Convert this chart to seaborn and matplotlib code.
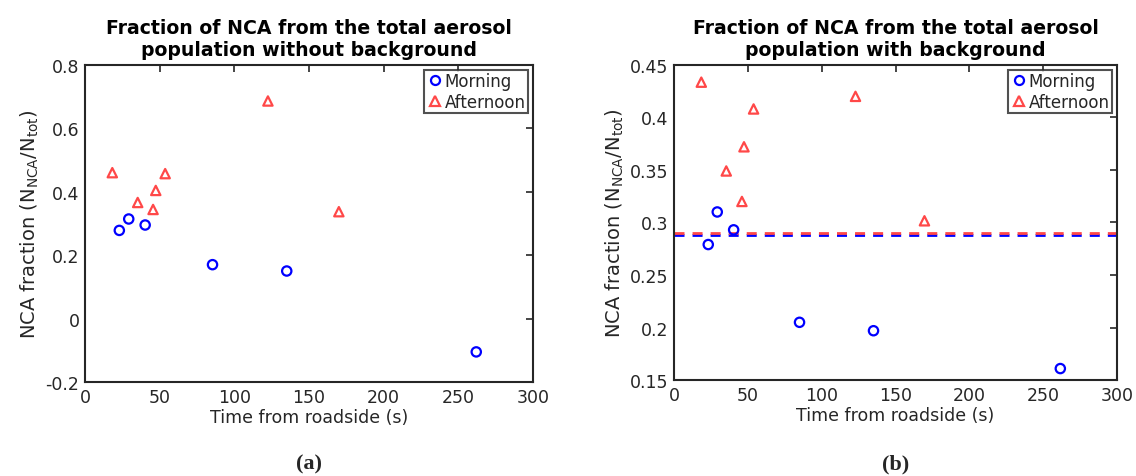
import numpy as np
import pandas as pd
import matplotlib
matplotlib.use("Agg")
import matplotlib.pyplot as plt
from matplotlib.lines import Line2D
import seaborn as sns

# ---- data ----
morning_t_a = [23, 29.3, 40.3, 85.4, 135.1, 262]
morning_f_a = [0.278, 0.314, 0.295, 0.170, 0.150, -0.105]
afternoon_t_a = [18.3, 35.3, 45.6, 47.4, 53.7, 122.5, 170]
afternoon_f_a = [0.460, 0.366, 0.344, 0.404, 0.457, 0.686, 0.337]

morning_t_b = [23.2, 29.3, 40.4, 85, 135.1, 261.6]
morning_f_b = [0.279, 0.310, 0.293, 0.205, 0.197, 0.161]
afternoon_t_b = [18.5, 35.4, 46, 47.4, 53.9, 122.9, 169.6]
afternoon_f_b = [0.4335, 0.349, 0.320, 0.372, 0.408, 0.420, 0.3016]

background_morning_b = 0.2880
background_afternoon_b = 0.2897

titles = ["Fraction of NCA from the total aerosol\npopulation without background",
          "Fraction of NCA from the total aerosol\npopulation with background"]
subcaptions = ["(a)", "(b)"]
xlabel = "Time from roadside (s)"
ylabel = r"NCA fraction (N$_{\mathrm{NCA}}$/N$_{\mathrm{tot}}$)"
yticks_a = [-0.2, 0, 0.2, 0.4, 0.6, 0.8]
yticks_b = [0.15, 0.2, 0.25, 0.3, 0.35, 0.4, 0.45]
xticks = [0, 50, 100, 150, 200, 250, 300]

sns.set_style("white")
plt.rcParams['font.family'] = ['DejaVu Sans']

BLUE = "#0000ff"
RED = "#ff4848"
AX = "#262626"

def frame(mt, mf, at, af):
    return pd.concat([
        pd.DataFrame({"t": mt, "f": mf, "period": "Morning"}),
        pd.DataFrame({"t": at, "f": af, "period": "Afternoon"}),
    ], ignore_index=True)

df_a = frame(morning_t_a, morning_f_a, afternoon_t_a, afternoon_f_a)
df_b = frame(morning_t_b, morning_f_b, afternoon_t_b, afternoon_f_b)

fig = plt.figure(figsize=(11.36, 4.77), dpi=100)
ax1 = fig.add_axes([0.0748, 0.197, 0.3944, 0.665])
ax2 = fig.add_axes([0.5933, 0.201, 0.390, 0.661])

palette = {"Morning": BLUE, "Afternoon": RED}
markers = {"Morning": "o", "Afternoon": "^"}

for ax, df, yt, title, lim in [
    (ax1, df_a, yticks_a, titles[0], (-0.2, 0.8)),
    (ax2, df_b, yticks_b, titles[1], (0.15, 0.45)),
]:
    sns.scatterplot(data=df, x="t", y="f", hue="period", style="period",
                    palette=palette, markers=markers, ax=ax, s=45,
                    linewidth=1.6, legend=False, zorder=3)
    coll = ax.collections[0]
    cols = [palette[p] for p in df["period"]]
    coll.set_edgecolors(cols)
    coll.set_facecolors("none")
    ax.set_xlim(0, 300)
    ax.set_ylim(*lim)
    ax.set_xticks(xticks)
    ax.set_yticks(yt)
    ax.set_yticklabels([("%g" % v) for v in yt])
    ax.tick_params(direction="in", length=5, width=1.2, top=True, right=True,
                   labelsize=12.5, colors=AX, labelcolor=AX, pad=4)
    for sp in ax.spines.values():
        sp.set_color(AX)
        sp.set_linewidth(1.5)
    ax.set_xlabel(xlabel, fontsize=12.5, color=AX, labelpad=2)
    ax.set_ylabel(ylabel, fontsize=14, color=AX, labelpad=3)
    ax.set_title(title, fontsize=13.6, fontweight="bold", color="black",
                 pad=7, linespacing=1.2)
    handles = [Line2D([], [], marker="o", ls="none", mec=BLUE, mfc="none",
                      mew=1.6, ms=6.5, label="Morning"),
               Line2D([], [], marker="^", ls="none", mec=RED, mfc="none",
                      mew=1.6, ms=6.5, label="Afternoon")]
    leg = ax.legend(handles=handles, loc="upper right", fontsize=12,
                    frameon=True, fancybox=False, borderpad=0.15,
                    handletextpad=0.1, handlelength=1.0, labelspacing=0.15,
                    borderaxespad=0.3)
    leg.get_frame().set_edgecolor(AX)
    leg.get_frame().set_linewidth(1.5)

ax2.axhline(background_morning_b, color=BLUE, ls=(0, (3.6, 2.9)), lw=2, zorder=1)
ax2.axhline(background_afternoon_b, color=RED, ls=(0, (3.6, 2.9)), lw=2, zorder=1)

for ax, cap in zip([ax1, ax2], subcaptions):
    bb = ax.get_position()
    fig.text(bb.x0 + bb.width / 2, 0.027, cap, ha="center", va="center",
             fontsize=16, fontweight="bold", family="Liberation Serif")

fig.savefig("out.png", dpi=100)
